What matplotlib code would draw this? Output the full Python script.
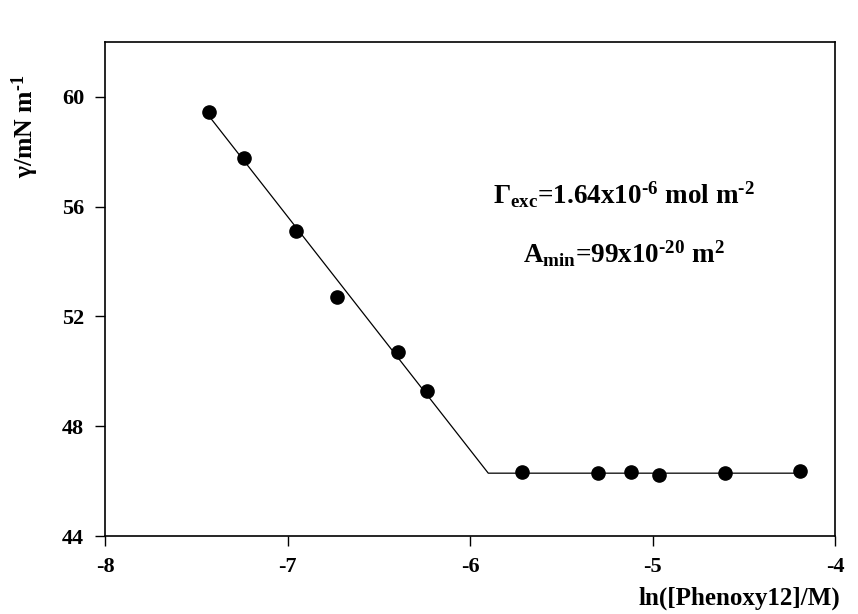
import matplotlib
matplotlib.use('Agg')
import matplotlib.pyplot as plt

# surface tension vs ln(concentration)
ln_conc = [-7.43, -7.24, -6.955, -6.73, -6.397, -6.238,
           -5.713, -5.297, -5.116, -4.963, -4.602, -4.192]
gamma = [59.44, 57.77, 55.11, 52.70, 50.70, 49.28,
         46.33, 46.28, 46.33, 46.24, 46.29, 46.37]

# the two fitted segments (break at the cmc)
fit_x = [-7.43, -5.90, -4.19]
fit_y = [59.30, 46.29, 46.29]

x_ticks = [-8, -7, -6, -5, -4]
y_ticks = [44, 48, 52, 56, 60]

plt.rcParams['font.family'] = ['Liberation Serif', 'DejaVu Serif']
plt.rcParams['font.weight'] = 'bold'
plt.rcParams['mathtext.fontset'] = 'custom'
plt.rcParams['mathtext.rm'] = 'Liberation Serif:bold'
plt.rcParams['mathtext.it'] = 'Liberation Serif:bold'
plt.rcParams['mathtext.bf'] = 'Liberation Serif:bold'

fig = plt.figure(figsize=(8.58, 6.14), dpi=100)
ax = fig.add_axes([0.1224, 0.127, 0.8508, 0.8046])

ax.plot(fit_x, fit_y, color='black', lw=0.9, zorder=2)
ax.plot(ln_conc, gamma, 'o', color='black', ms=9.5, zorder=3)

ax.set_xlim(-8, -4)
ax.set_ylim(44, 62)
ax.set_xticks(x_ticks)
ax.set_yticks(y_ticks)
ax.set_xticklabels([str(v) for v in x_ticks])
ax.set_yticklabels([str(v) for v in y_ticks])
ax.tick_params(direction='out', length=7, width=1, labelsize=16, pad=8)
for s in ax.spines.values():
    s.set_linewidth(1.2)

ax.set_ylabel(r'$\gamma$/mN m$^{\text{-}1}$', fontsize=18.5, fontweight='bold')
ax.yaxis.set_label_coords(-0.088, 0.83)
ax.set_xlabel('ln([Phenoxy12]/M)', fontsize=18, fontweight='bold', ha='right', va='center')
ax.xaxis.set_label_coords(1.007, -0.127)

ax.text(-5.156, 56.45, r'$\Gamma_{exc}$=1.64x10$^{\text{-}6}$ mol m$^{\text{-}2}$',
        fontsize=19.5, fontweight='bold', ha='center', va='center')
ax.text(-5.156, 54.3, r'A$_{min}$=99x10$^{\text{-}20}$ m$^{2}$',
        fontsize=19.5, fontweight='bold', ha='center', va='center')

fig.savefig('out.png', dpi=100)
